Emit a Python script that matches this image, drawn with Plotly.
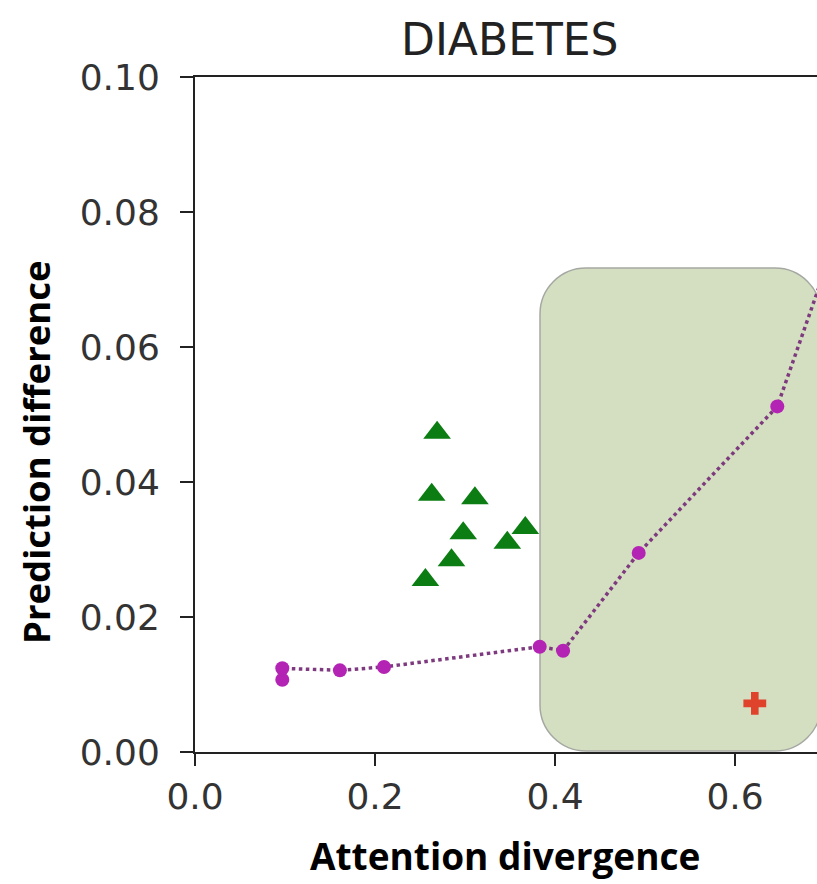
import plotly.graph_objects as go

# ---- data ----
tri_x = [0.269, 0.263, 0.311, 0.298, 0.285, 0.256, 0.347, 0.367]
tri_y = [0.0473, 0.0381, 0.0376, 0.0324, 0.0284, 0.0255, 0.0310, 0.0332]

line_x = [0.097, 0.097, 0.161, 0.210, 0.383, 0.409, 0.493, 0.647, 0.695]
line_y = [0.0107, 0.0124, 0.0121, 0.0126, 0.0156, 0.0150, 0.0295, 0.0512, 0.0695]

plus_x = [0.622]
plus_y = [0.0072]

x_ticks = [0.0, 0.2, 0.4, 0.6]
x_tick_labels = ["0.0", "0.2", "0.4", "0.6"]
y_ticks = [0.00, 0.02, 0.04, 0.06, 0.08, 0.10]
y_tick_labels = ["0.00", "0.02", "0.04", "0.06", "0.08", "0.10"]

title_text = "DIABETES"
x_title = "Attention divergence"
y_title = "Prediction difference"

# ---- layout geometry (pixels) ----
W, H = 817, 884
L, R, T, B = 195, 0, 77, 132
PW = W - L - R
PH = H - T - B


def px(xp):
    return (xp - L) / PW


def py(yp):
    return (H - B - yp) / PH


def rounded_rect(x0, y0, x1, y1, r):
    k = 0.5523 * r
    pts = []
    pts.append(f"M {px(x0 + r)},{py(y0)}")
    pts.append(f"L {px(x1 - r)},{py(y0)}")
    pts.append(f"C {px(x1 - r + k)},{py(y0)} {px(x1)},{py(y0 + r - k)} {px(x1)},{py(y0 + r)}")
    pts.append(f"L {px(x1)},{py(y1 - r)}")
    pts.append(f"C {px(x1)},{py(y1 - r + k)} {px(x1 - r + k)},{py(y1)} {px(x1 - r)},{py(y1)}")
    pts.append(f"L {px(x0 + r)},{py(y1)}")
    pts.append(f"C {px(x0 + r - k)},{py(y1)} {px(x0)},{py(y1 - r + k)} {px(x0)},{py(y1 - r)}")
    pts.append(f"L {px(x0)},{py(y0 + r)}")
    pts.append(f"C {px(x0)},{py(y0 + r - k)} {px(x0 + r - k)},{py(y0)} {px(x0 + r)},{py(y0)}")
    pts.append("Z")
    return " ".join(pts)


fig = go.Figure()

fig.add_trace(go.Scatter(
    x=tri_x, y=tri_y, mode="markers",
    marker=dict(symbol="triangle-up", size=24, color="#0b7d12"),
    showlegend=False, cliponaxis=False,
))

fig.add_trace(go.Scatter(
    x=line_x, y=line_y, mode="lines+markers",
    line=dict(color="#7e3a7e", width=3.5, dash="dot"),
    marker=dict(symbol="circle", size=14, color="#b424b4"),
    showlegend=False, cliponaxis=False,
))

fig.add_trace(go.Scatter(
    x=plus_x, y=plus_y, mode="markers",
    marker=dict(symbol="cross", size=19, color="#e0432c"),
    showlegend=False, cliponaxis=False,
))

fig.add_shape(
    type="path", xref="paper", yref="paper",
    path=rounded_rect(540, 268, 821, 751, 46),
    fillcolor="#d4dfc1", line=dict(color="#a5a8a2", width=1.5),
    layer="below",
)

tick_font = dict(family="DejaVu Sans", size=36, color="#333333")

fig.update_layout(
    width=W, height=H,
    margin=dict(l=L, r=R, t=T, b=B, pad=0),
    paper_bgcolor="white", plot_bgcolor="white",
    showlegend=False,
    xaxis=dict(
        range=[0, PW / 900], tickvals=x_ticks, ticktext=x_tick_labels,
        ticks="outside", ticklen=12, tickwidth=2, tickcolor="#222222",
        showline=True, linecolor="#222222", linewidth=2, mirror=True,
        showgrid=False, zeroline=False, tickfont=tick_font,
    ),
    yaxis=dict(
        range=[0, 0.10], tickvals=y_ticks, ticktext=y_tick_labels,
        ticks="outside", ticklen=13, tickwidth=2, tickcolor="#222222",
        showline=True, linecolor="#222222", linewidth=2, mirror=False,
        showgrid=False, zeroline=False, tickfont=tick_font,
        ticklabelstandoff=13,
    ),
    annotations=[
        dict(text=title_text, x=px(510), y=py(40), xref="paper", yref="paper",
             showarrow=False, xanchor="center", yanchor="middle",
             font=dict(family="DejaVu Sans", size=44, color="#222222")),
        dict(text=f"<b>{x_title}</b>", x=px(505), y=py(855), xref="paper", yref="paper",
             showarrow=False, xanchor="center", yanchor="middle",
             font=dict(family="Open Sans", size=37, color="#000000")),
        dict(text=f"<b>{y_title}</b>", x=px(36), y=py(452), xref="paper", yref="paper",
             showarrow=False, xanchor="center", yanchor="middle", textangle=-90,
             font=dict(family="Open Sans", size=36.5, color="#000000")),
    ],
)

fig.write_html("out.html")
